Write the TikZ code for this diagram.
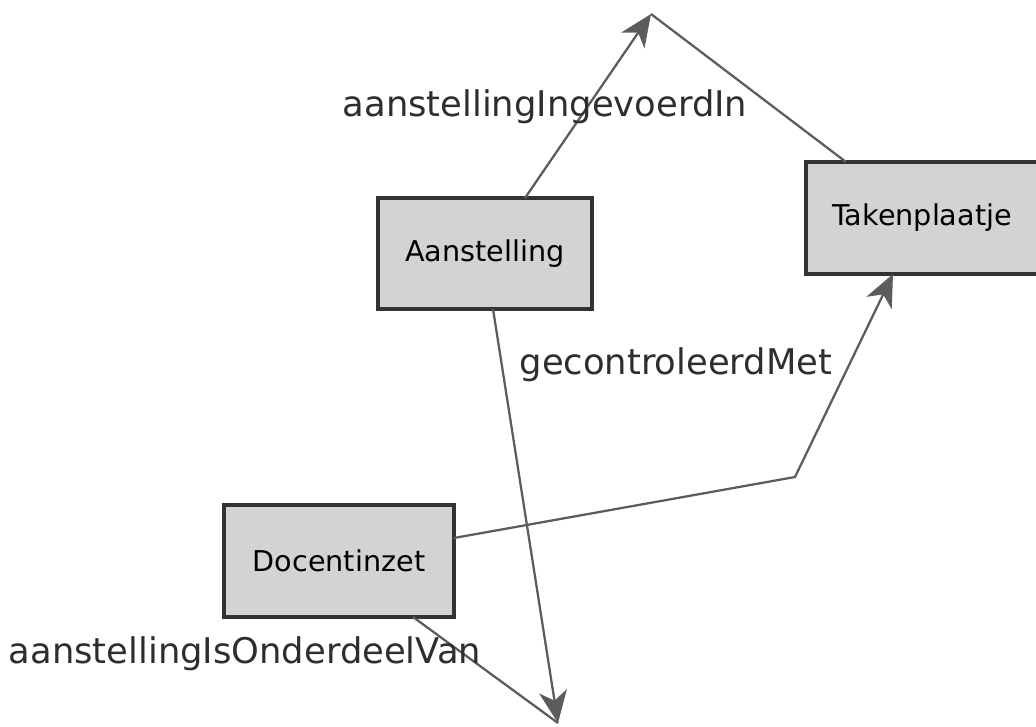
\documentclass[tikz,border=0pt]{standalone}
\usepackage{fontspec}
\setmainfont{DejaVu Sans}
\usetikzlibrary{calc,arrows.meta}
\definecolor{boxfill}{HTML}{D3D3D3}
\definecolor{boxline}{HTML}{333333}
\definecolor{wire}{HTML}{5C5C5C}
\definecolor{lbl}{HTML}{2E2E2E}
\tikzset{
  x=0.75pt, y=-0.75pt,
  cls/.style={draw=boxline, fill=boxfill, line width=2.3pt, inner sep=0pt, outer sep=0pt,
    minimum height=84pt, font=\fontsize{21.5}{25}\selectfont},
  link/.style={draw=wire, line width=1.7pt, line join=miter},
  tip/.style={-{Stealth[length=24pt, width=21pt, inset=7pt, fill=wire]}},
  rel/.style={anchor=base, inner sep=0pt, text=lbl, font=\fontsize{26.5}{30}\selectfont}
}
\begin{document}
\begin{tikzpicture}
\useasboundingbox (0,0) rectangle (1036,727);

% classes
\node[cls, minimum width=160.5pt, minimum height=83.25pt] (A) at (485,253.5) {Aanstelling};
\node[cls, minimum width=174pt] (T) at (922,218) {Takenplaatje};
\node[cls, minimum width=172.5pt] (D) at (339,561) {Docentinzet};

% free ends of the associations
\coordinate (top) at (651,14);
\coordinate (bend) at (795,477);
\coordinate (sink) at (558,723);

% associations
\draw[link, tip] ($(A.north)+(40,0)$) -- (top);
\draw[link] ($(T.north)+(-76,0)$) -- (top);
\draw[link, tip] ($(D.east)+(0,-23)$) -- (bend) -- ($(T.south)+(-29,0)$);
\draw[link] ($(D.south)+(74,0)$) -- (sink);
\draw[link, tip] ($(A.south)+(8,0)$) -- (sink);

% association names
\node[rel] (l1) at (545,117) {aanstellingIngevoerdIn};
\node[rel] (l2) at (676,375) {gecontroleerdMet};
\node[rel] (l3) at (245,663) {aanstellingIsOnderdeelVan};
\end{tikzpicture}
\end{document}
